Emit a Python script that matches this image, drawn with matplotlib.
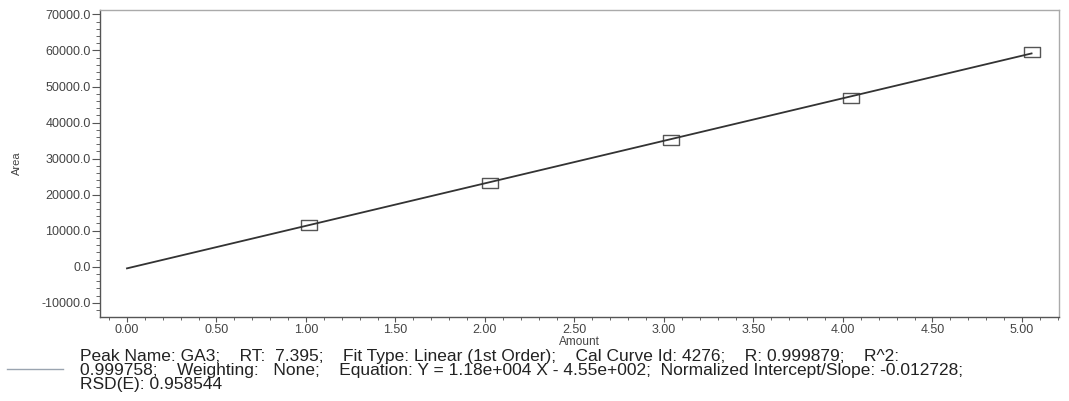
import matplotlib.pyplot as plt
import numpy as np
from matplotlib.ticker import MultipleLocator, FormatStrFormatter
from matplotlib.lines import Line2D

plt.rcParams['font.family'] = ['Liberation Sans', 'DejaVu Sans']

# calibration standards
amount = [1.018, 2.028, 3.037, 4.045, 5.054]
area = [11570, 23310, 35155, 46890, 59660]

# fit from the report text
fit_slope = 1.18e4
fit_intercept = -4.55e2
fit_x = np.array([0.0, 5.054])

# report text as printed under the chart
report_lines = [
    "Peak Name: GA3;    RT:  7.395;    Fit Type: Linear (1st Order);    Cal Curve Id: 4276;    R: 0.999879;    R^2:",
    "0.999758;    Weighting:   None;    Equation: Y = 1.18e+004 X - 4.55e+002;  Normalized Intercept/Slope: -0.012728;",
    "RSD(E): 0.958544",
]

W, H = 1069, 401

fig = plt.figure(figsize=(W / 100, H / 100), dpi=100)
ax = fig.add_axes([0.0935, 0.2102, 0.8971, 0.7648])

# fit line
ax.plot(fit_x, fit_slope * fit_x + fit_intercept, color='#333333', linewidth=1.3, zorder=3)

# open rectangles for the standards
rect = [(-1.55, -1), (1.55, -1), (1.55, 1), (-1.55, 1), (-1.55, -1)]
ax.plot(amount, area, linestyle='none', marker=rect, markersize=11,
        markerfacecolor='none', markeredgecolor='#555555', markeredgewidth=1.0, zorder=2)

ax.set_xlim(-0.151, 5.207)
ax.set_ylim(-13870, 71230)

ax.xaxis.set_major_locator(MultipleLocator(0.5))
ax.xaxis.set_minor_locator(MultipleLocator(0.1))
ax.yaxis.set_major_locator(MultipleLocator(10000))
ax.yaxis.set_minor_locator(MultipleLocator(2000))
ax.xaxis.set_major_formatter(FormatStrFormatter('%.2f'))
ax.yaxis.set_major_formatter(FormatStrFormatter('%.1f'))

ax.tick_params(axis='x', which='major', length=3.6, width=0.8, color='#555555',
               labelsize=9, labelcolor='#444444', pad=2)
ax.tick_params(axis='x', which='minor', length=2.2, width=0.7, color='#666666')
ax.tick_params(axis='y', which='major', length=5.5, width=0.8, color='#555555',
               labelsize=9, labelcolor='#444444', pad=1)
ax.tick_params(axis='y', which='minor', length=3.0, width=0.7, color='#666666')

for side in ['left', 'bottom']:
    ax.spines[side].set_color('#555555')
    ax.spines[side].set_linewidth(1.0)
for side in ['top', 'right']:
    ax.spines[side].set_color('#aaaaaa')
    ax.spines[side].set_linewidth(1.0)

ax.set_xlabel('Amount', fontsize=8.5, color='#444444', labelpad=0)
ax.set_ylabel('Area', fontsize=8, color='#444444')
ax.yaxis.set_label_coords(-0.081, 0.5)

# legend line + report text under the plot
fig.add_artist(Line2D([7 / W, 63 / W], [1 - 369 / H, 1 - 369 / H],
                      transform=fig.transFigure, color='#9aa4b0', linewidth=1.0))
fig.text(80 / W, 1 - 349 / H, "\n".join(report_lines), fontsize=12.5,
         color='#222222', va='top', ha='left', linespacing=0.92)

fig.savefig('out.png', dpi=100)
